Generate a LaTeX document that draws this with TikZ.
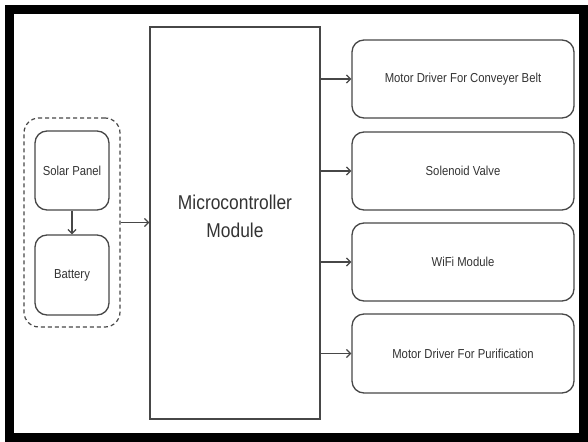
\documentclass[tikz,border=0pt]{standalone}
\usepackage{fontspec}
\setmainfont{Liberation Sans}
\usetikzlibrary{arrows.meta}
\newcommand{\nrw}[1]{\scalebox{0.87}[1]{#1}}
\definecolor{ln}{HTML}{474747}
\definecolor{tx}{HTML}{333333}
\begin{document}
\begin{tikzpicture}[x=1pt,y=-1pt,
 box/.style={draw=ln, line width=1.3pt, rounded corners=12pt, inner sep=0pt, text=tx, font=\fontsize{13}{15}\selectfont},
 arr/.style={draw=ln, line width=1.3pt, -{Straight Barb[length=4pt,width=8pt]}}]
\useasboundingbox (0,0) rectangle (588,441);
\fill[white] (0,0) rectangle (588,441);
\draw[line width=9pt] (9.5,9.5) rectangle (583.5,437.5);
% power group
\node[draw=ln, line width=1.2pt, dash pattern=on 4pt off 3pt, rounded corners=15pt, minimum width=96pt, minimum height=209pt, inner sep=0pt] (power) at (72,222.5) {};
\node[box, minimum width=74pt, minimum height=79pt] (solar) at (72,170.5) {\nrw{Solar Panel}};
\node[box, minimum width=74pt, minimum height=80pt] (battery) at (72,275) {\nrw{Battery}};
% microcontroller
\node[draw=ln, line width=1.2pt, minimum width=170pt, minimum height=392pt, inner sep=0pt] (mcu) at (235,223) {};
\node[text=tx, align=center, font=\fontsize{20}{28}\selectfont] (mcutext) at (235,216) {\nrw{Microcontroller}\\\nrw{Module}};
% outputs
\node[box, minimum width=222pt, minimum height=78pt] (m1) at (463,79) {\nrw{Motor Driver For Conveyer Belt}};
\node[box, minimum width=222pt, minimum height=78pt] (m2) at (463,171) {\nrw{Solenoid Valve}};
\node[box, minimum width=222pt, minimum height=78pt] (m3) at (463,262) {\nrw{WiFi Module}};
\node[box, minimum width=222pt, minimum height=79pt] (m4) at (463,353.5) {\nrw{Motor Driver For Purification}};
% connectors
\draw[arr] (solar) -- (battery);
\draw[arr] (power.east) -- (mcu.west|-power.east);
\draw[arr] (mcu.east|-m1.west) -- (m1.west);
\draw[arr] (mcu.east|-m2.west) -- (m2.west);
\draw[arr] (mcu.east|-m3.west) -- (m3.west);
\draw[arr] (mcu.east|-m4.west) -- (m4.west);
\end{tikzpicture}
\end{document}
